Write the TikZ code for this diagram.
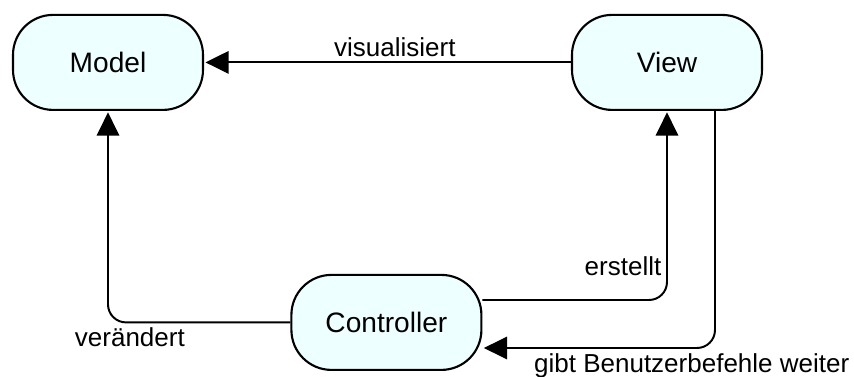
\documentclass[tikz,border=0pt]{standalone}
\usepackage{fontspec}
\setmainfont{Liberation Sans}
\usetikzlibrary{arrows.meta}
\definecolor{boxfill}{RGB}{238,255,255}

\begin{document}
\begin{tikzpicture}[
  mvcbox/.style={draw, line width=1.5pt, fill=boxfill, rounded corners=1.0cm,
    minimum width=4.75cm, minimum height=2.375cm, font=\fontsize{20}{24}\selectfont},
  flow/.style={line width=1.4pt, rounded corners=0.45cm,
    -{Triangle[length=0.58cm,width=0.56cm]}, shorten >=1pt},
  lbl/.style={font=\fontsize{18.5}{22}\selectfont}
]
\useasboundingbox (0,0) rectangle (21.35,9.4);
% the three parts
\node[mvcbox] (model) at (2.7,7.84) {Model};
\node[mvcbox] (view) at (16.675,7.84) {View};
\node[mvcbox] (ctrl) at (9.66,1.34) {Controller};
% connectors
\draw[flow] (view) -- node[lbl, pos=0.48, above] {visualisiert} (model);
\draw[flow] (ctrl.west) -| node[lbl, pos=0.44, below] {verändert} (model.south);
\draw[flow] ([yshift=0.56cm]ctrl.east) -| node[lbl, pos=0.59, left] {erstellt} (view.south);
\draw[flow] ([xshift=1.2cm]view.south) |- node[lbl, pos=0.55, below] {gibt Benutzerbefehle weiter} ([yshift=-0.64cm]ctrl.east);
\end{tikzpicture}
\end{document}
